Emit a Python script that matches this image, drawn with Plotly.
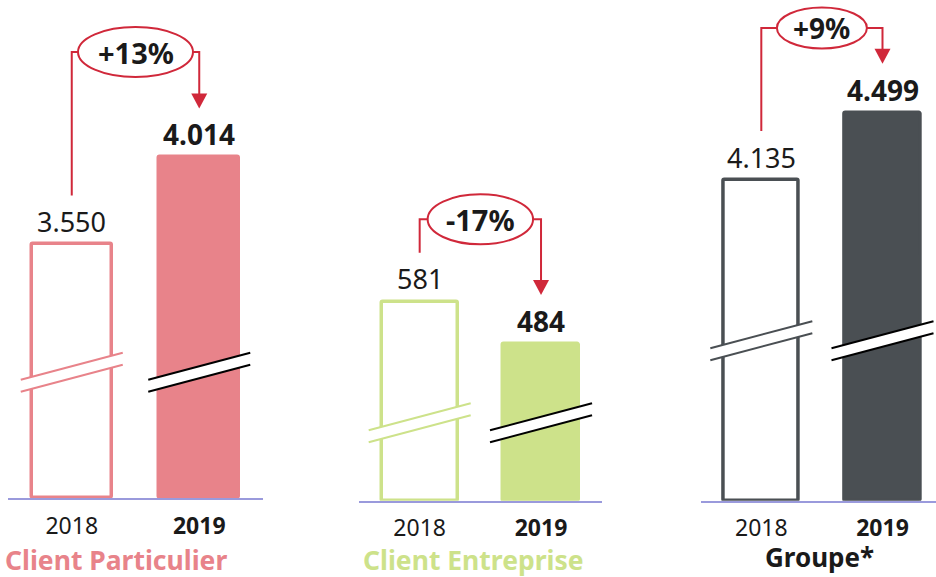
import plotly.graph_objects as go

# ---------------- data ----------------
groups = ["Client Particulier", "Client Entreprise", "Groupe*"]
years = ["2018", "2019"]
values_2018 = [3550, 581, 4135]
values_2019 = [4014, 484, 4499]
labels_2018 = ["3.550", "581", "4.135"]
labels_2019 = ["4.014", "484", "4.499"]
change_labels = ["+13%", "-17%", "+9%"]

# ---------------- style / layout ----------------
group_colors = ["#E8838A", "#CDE28A", "#4A4F53"]
title_colors = ["#E8838A", "#CDE28A", "#1A1A1A"]
RED = "#D0283A"
AXIS = "#9A9ADC"
TXT = "#1A1A1A"
FONT = "Noto Sans"

W, H = 936, 577
x_dom_px = [(8, 263), (359, 601.7), (700.7, 936)]
x_ranges = [(-0.5, 1.5), (-0.5, 1.5), (-0.5, 1.4414)]
baseline_px = [498.3, 500.7, 500.7]
y_floor = [2196, 125, 2400]      # broken axis: bars start here
y_ceiling = [4854, 1273, 5109]
bar_width = 0.625
ellipse_cy = [52, 219.3, 28]
ellipse_r = [(57.5, 25), (52.7, 25), (45, 20.5)]
change_font = [29, 29, 28]
break_px = [126, 78, 160]
title_pos = [(116, 560), (473, 560), (819, 557)]
title_font = [26.5, 26.5, 26]


def cx(i, c):
    d0, d1 = x_dom_px[i]
    r0, r1 = x_ranges[i]
    return d0 + (c - r0) / (r1 - r0) * (d1 - d0)


def vy(i, v):
    return baseline_px[i] - (v - y_floor[i]) / (y_ceiling[i] - y_floor[i]) * baseline_px[i]


def P(x, y):
    return x / W, 1 - y / H


def path(points, close=False):
    s = ""
    for k, (x, y) in enumerate(points):
        px, py = P(x, y)
        s += ("M" if k == 0 else " L") + f"{px:.5f},{py:.5f}"
    return s + (" Z" if close else "")


fig = go.Figure()
shapes = []
annotations = []
layout_axes = {}

for i in range(3):
    s = "" if i == 0 else str(i + 1)
    col = group_colors[i]
    fig.add_trace(go.Bar(
        x=[0], y=[values_2018[i] - y_floor[i]], base=[y_floor[i]], width=bar_width,
        marker=dict(color="white", line=dict(color=col, width=3.5), cornerradius=2),
        xaxis="x" + s, yaxis="y" + s, hoverinfo="skip"))
    fig.add_trace(go.Bar(
        x=[1], y=[values_2019[i] - y_floor[i]], base=[y_floor[i]], width=bar_width,
        marker=dict(color=col, line=dict(color=col, width=3.5), cornerradius=2),
        xaxis="x" + s, yaxis="y" + s, hoverinfo="skip"))

    d0, d1 = x_dom_px[i]
    layout_axes["xaxis" + s] = dict(
        domain=[d0 / W, d1 / W], range=list(x_ranges[i]), anchor="y" + s,
        tickvals=[0, 1], ticktext=[years[0], "<b>" + years[1] + "</b>"],
        tickfont=dict(family=FONT, size=23, color=TXT),
        showline=True, linecolor=AXIS, linewidth=1.5, showgrid=False,
        zeroline=False, ticks="", ticklabelstandoff=6, fixedrange=True)
    layout_axes["yaxis" + s] = dict(
        domain=[1 - baseline_px[i] / H, 1], range=[y_floor[i], y_ceiling[i]],
        anchor="x" + s, visible=False, fixedrange=True)

    # value labels
    for c, v, lab, bold in [(0, values_2018[i], labels_2018[i], False),
                            (1, values_2019[i], labels_2019[i], True)]:
        annotations.append(dict(
            x=c, y=v, xref="x" + s, yref="y" + s, showarrow=False,
            text=("<b>" + lab + "</b>") if bold else lab, yanchor="middle", yshift=23,
            font=dict(family=FONT, size=28 if bold else 27, color=TXT)))

    # break marks
    hw, slope, gap = 51, 0.265, 12
    for c in (0, 1):
        xc = cx(i, c)
        mid = baseline_px[i] - break_px[i]
        lc = col if c == 0 else "#000000"
        ul = (xc - hw, mid - gap / 2 + slope * hw)
        ur = (xc + hw, mid - gap / 2 - slope * hw)
        ll = (xc - hw, mid + gap / 2 + slope * hw)
        lr = (xc + hw, mid + gap / 2 - slope * hw)
        shapes.append(dict(type="path", xref="paper", yref="paper",
                           path=path([ul, ur, lr, ll], close=True),
                           fillcolor="white", line=dict(width=0)))
        shapes.append(dict(type="path", xref="paper", yref="paper",
                           path=path([ul, ur]), line=dict(color=lc, width=2)))
        shapes.append(dict(type="path", xref="paper", yref="paper",
                           path=path([ll, lr]), line=dict(color=lc, width=2)))

    # change connector
    x0p, x1p = cx(i, 0), cx(i, 1)
    xm = cx(i, 0.5)
    ey = ellipse_cy[i]
    rx, ry = ellipse_r[i]
    start_y = vy(i, values_2018[i]) - 49
    tip_y = vy(i, values_2019[i]) - 49
    shapes.append(dict(type="path", xref="paper", yref="paper",
                       path=path([(x0p, start_y), (x0p, ey), (xm - rx, ey)]),
                       line=dict(color=RED, width=2)))
    shapes.append(dict(type="path", xref="paper", yref="paper",
                       path=path([(xm + rx, ey), (x1p, ey), (x1p, tip_y - 13)]),
                       line=dict(color=RED, width=2)))
    shapes.append(dict(type="path", xref="paper", yref="paper",
                       path=path([(x1p - 8, tip_y - 15), (x1p + 8, tip_y - 15), (x1p, tip_y)], close=True),
                       fillcolor=RED, line=dict(width=0)))
    ex0, ey0 = P(xm - rx, ey + ry)
    ex1, ey1 = P(xm + rx, ey - ry)
    shapes.append(dict(type="circle", xref="paper", yref="paper",
                       x0=ex0, y0=ey0, x1=ex1, y1=ey1,
                       fillcolor="white", line=dict(color=RED, width=2)))
    ax, ay = P(xm, ey)
    annotations.append(dict(x=ax, y=ay, xref="paper", yref="paper", showarrow=False,
                            text="<b>" + change_labels[i] + "</b>",
                            xanchor="center", yanchor="middle",
                            font=dict(family=FONT, size=change_font[i], color=TXT)))

    # group title
    tx, ty = P(*title_pos[i])
    annotations.append(dict(x=tx, y=ty, xref="paper", yref="paper", showarrow=False,
                            text="<b>" + groups[i] + "</b>", xanchor="center", yanchor="middle",
                            font=dict(family=FONT, size=title_font[i], color=title_colors[i])))

fig.update_layout(
    width=W, height=H, margin=dict(l=0, r=0, t=0, b=0),
    paper_bgcolor="white", plot_bgcolor="white", showlegend=False,
    bargap=0, shapes=shapes, annotations=annotations, **layout_axes)

fig.write_html("out.html", config=dict(displayModeBar=False),
               post_script="document.body.style.margin='0';document.body.style.overflow='hidden';")
